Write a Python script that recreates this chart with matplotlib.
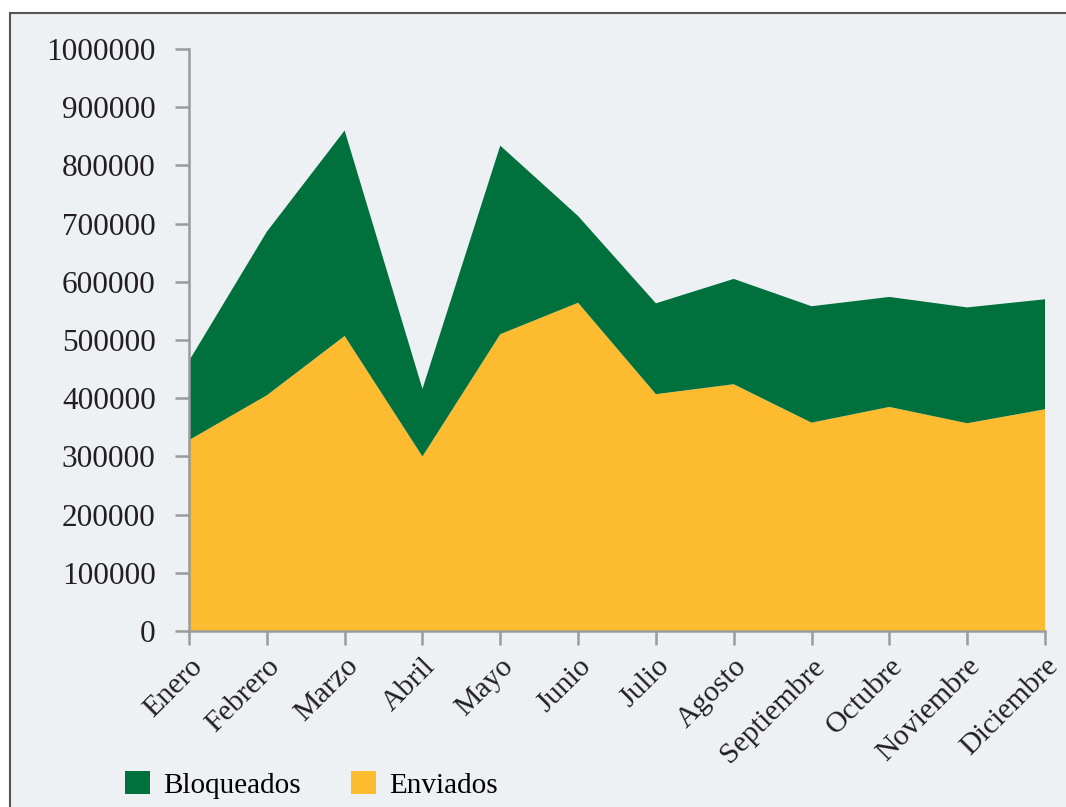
import matplotlib
matplotlib.use('Agg')
import matplotlib.pyplot as plt
from matplotlib.patches import Rectangle, Patch
import numpy as np

meses = ['Enero', 'Febrero', 'Marzo', 'Abril', 'Mayo', 'Junio', 'Julio',
         'Agosto', 'Septiembre', 'Octubre', 'Noviembre', 'Diciembre']
enviados = [328000, 405000, 507000, 300000, 510000, 564000, 407000,
            424000, 358000, 385000, 357000, 381000]
total = [464000, 686000, 860000, 416000, 834000, 713000, 563000,
         605000, 558000, 574000, 556000, 570000]
bloqueados = [t - e for t, e in zip(total, enviados)]

verde = '#00703C'
amarillo = '#FDBB30'
fondo = '#EDF1F4'
gris = '#9A9A9A'

plt.rcParams['font.family'] = ['Liberation Serif', 'DejaVu Serif']

W, H = 1066, 807
fig = plt.figure(figsize=(W / 100, H / 100), dpi=100)
fig.patch.set_facecolor('white')
# light panel with a dark frame that runs off the right and bottom edges
fig.patches.append(Rectangle((10 / W, -0.2), 1.2, 1.2 - 13 / H, transform=fig.transFigure,
                             facecolor=fondo, edgecolor='#555555', linewidth=1.5, zorder=-10))

ax = fig.add_axes([189 / W, 1 - 631 / H, (1045 - 189) / W, (631 - 49) / H])
ax.set_facecolor('none')
x = np.arange(len(meses))
ax.stackplot(x, enviados, bloqueados, colors=[amarillo, verde], linewidth=0)
ax.set_xlim(0, len(meses) - 1)
ax.set_ylim(0, 1000000)
ax.set_yticks(np.arange(0, 1000001, 100000))
ax.set_yticklabels([str(v) for v in range(0, 1000001, 100000)])
ax.set_xticks(x)
ax.set_xticklabels(meses, rotation=45, ha='right', rotation_mode='anchor')
for s in ['top', 'right']:
    ax.spines[s].set_visible(False)
for s in ['left', 'bottom']:
    ax.spines[s].set_color(gris)
    ax.spines[s].set_linewidth(1.8)
ax.tick_params(axis='both', colors=gris, width=1.8, length=10,
               labelcolor='#231F20')
ax.tick_params(axis='y', labelsize=22.5, pad=14)
ax.tick_params(axis='x', labelsize=21.5, pad=6)

handles = [Patch(facecolor=verde, label='Bloqueados'), Patch(facecolor=amarillo, label='Enviados')]
fig.legend(handles=handles, loc='lower left', bbox_to_anchor=(99 / W, 1 - 825 / H), ncol=2,
           frameon=False, fontsize=21, handlelength=0.86, handleheight=0.86,
           handletextpad=0.45, columnspacing=1.7)

fig.savefig('out.png', dpi=100)
